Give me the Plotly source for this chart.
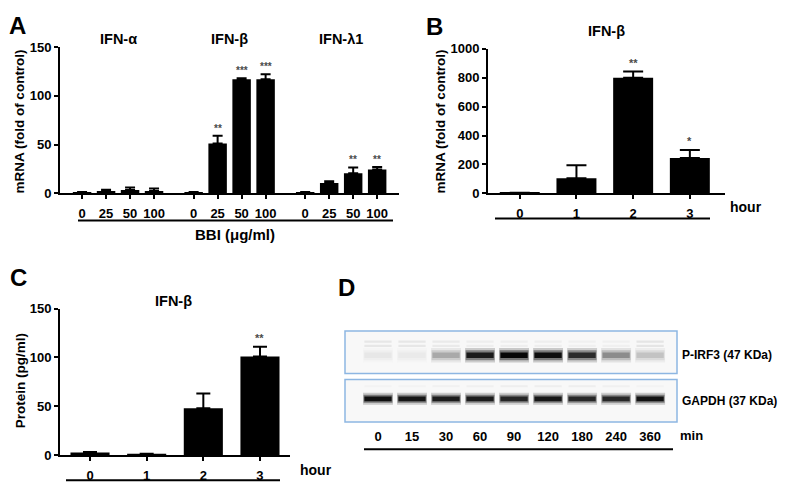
import plotly.graph_objects as go

# ---------------- data ----------------
a_genes = ["IFN-α", "IFN-β", "IFN-λ1"]
a_doses = ["0", "25", "50", "100"]
a_alpha_mean = [1.0, 2.5, 3.5, 2.5]
a_alpha_err = [0.3, 1.2, 2.5, 2.5]
a_alpha_sig = ["", "", "", ""]
a_beta_mean = [1.0, 51, 117, 117]
a_beta_err = [0.3, 8, 1, 5]
a_beta_sig = ["", "**", "***", "***"]
a_lambda_mean = [1.0, 10.5, 20.5, 24.5]
a_lambda_err = [0.3, 1.8, 6, 2.5]
a_lambda_sig = ["", "", "**", "**"]

b_hours = ["0", "1", "2", "3"]
b_mean = [3, 105, 800, 244]
b_err = [1, 90, 43, 56]
b_sig = ["", "", "**", "*"]

c_hours = ["0", "1", "2", "3"]
c_mean = [2.5, 1.0, 48, 101]
c_err = [0.5, 0.3, 15, 10]
c_sig = ["", "", "", "**"]

d_minutes = ["0", "15", "30", "60", "90", "120", "180", "240", "360"]
d_pirf3 = [0.07, 0.06, 0.33, 0.92, 1.0, 0.97, 0.85, 0.45, 0.22]
d_pirf3_upper = [0.07, 0.07, 0.06, 0.04, 0.04, 0.04, 0.035, 0.035, 0.08]
d_gapdh = [0.96, 0.93, 0.91, 0.91, 0.87, 0.93, 0.86, 0.86, 0.95]
d_gapdh_upper = [0.02, 0.02, 0.03, 0.035, 0.04, 0.04, 0.04, 0.035, 0.02]

# ---------------- layout helpers ----------------
W, H = 787, 486
FONT = "Liberation Sans, Arial, sans-serif"


def fx(p):
    return p / W


def fy(p):
    return 1 - p / H


def bold(t):
    return "<b>%s</b>" % t


fig = go.Figure()

# ---------------- bar panels ----------------
stride = 4.65
a_means = [a_alpha_mean, a_beta_mean, a_lambda_mean]
a_errs = [a_alpha_err, a_beta_err, a_lambda_err]
a_sigs = [a_alpha_sig, a_beta_sig, a_lambda_sig]
a_x, a_y, a_e, a_s, a_lab = [], [], [], [], []
for g, gene in enumerate(a_genes):
    for i, d in enumerate(a_doses):
        a_x.append(g * stride + i)
        a_y.append(a_means[g][i])
        a_e.append(a_errs[g][i])
        a_s.append(a_sigs[g][i])
        a_lab.append(d)

err_style = dict(type="data", symmetric=False, color="black", thickness=2)

fig.add_trace(go.Bar(
    x=a_x, y=a_y, width=0.77, marker=dict(color="black", line=dict(width=0)),
    error_y=dict(array=a_e, arrayminus=[0] * len(a_e), width=5, **err_style),
    xaxis="x", yaxis="y", showlegend=False))

fig.add_trace(go.Bar(
    x=list(range(len(b_hours))), y=b_mean, width=0.705,
    marker=dict(color="black", line=dict(width=0)),
    error_y=dict(array=b_err, arrayminus=[0] * len(b_err), width=10, **err_style),
    xaxis="x2", yaxis="y2", showlegend=False))

fig.add_trace(go.Bar(
    x=list(range(len(c_hours))), y=c_mean, width=0.69,
    marker=dict(color="black", line=dict(width=0)),
    error_y=dict(array=c_err, arrayminus=[0] * len(c_err), width=7, **err_style),
    xaxis="x3", yaxis="y3", showlegend=False))

# ---------------- panel D blots ----------------
band_cs = [[0, "#f8f8f8"], [0.5, "#808080"], [1, "#060606"]]
lanes = list(range(len(d_minutes)))


def band(vals, center, thick, xa, ya, width=0.82, fade=1.0):
    return go.Bar(
        x=lanes, y=[thick] * len(lanes), base=[center - thick / 2] * len(lanes),
        width=width,
        marker=dict(color=[v * fade for v in vals], colorscale=band_cs, cmin=0, cmax=1,
                    line=dict(width=0)),
        xaxis=xa, yaxis=ya, showlegend=False, hoverinfo="skip")


fig.add_trace(band(d_pirf3_upper, 0.75, 0.05, "x4", "y4", width=0.8))
fig.add_trace(band(d_pirf3_upper, 0.65, 0.05, "x4", "y4", width=0.8))
fig.add_trace(band(d_pirf3, 0.43, 0.34, "x4", "y4", width=0.88, fade=0.2))
fig.add_trace(band(d_pirf3, 0.43, 0.24, "x4", "y4", width=0.85, fade=0.55))
fig.add_trace(band(d_pirf3, 0.43, 0.13, "x4", "y4", width=0.8))
fig.add_trace(band(d_gapdh_upper, 0.84, 0.05, "x5", "y5", width=0.8))
fig.add_trace(band(d_gapdh, 0.545, 0.28, "x5", "y5", width=0.88, fade=0.2))
fig.add_trace(band(d_gapdh, 0.545, 0.19, "x5", "y5", width=0.85, fade=0.55))
fig.add_trace(band(d_gapdh, 0.545, 0.11, "x5", "y5", width=0.8))

# ---------------- axes ----------------
tickfont = dict(family=FONT, size=13, color="black")
xbase = dict(showline=True, linecolor="black", linewidth=2, ticks="outside",
             ticklen=4, tickwidth=2, tickcolor="black", showgrid=False, zeroline=False,
             tickfont=tickfont, fixedrange=True, ticklabelstandoff=3)
ybase = dict(showline=True, linecolor="black", linewidth=2, ticks="outside",
             ticklen=4, tickwidth=2, tickcolor="black", showgrid=False, zeroline=False,
             tickfont=tickfont, fixedrange=True)

fig.update_layout(
    width=W, height=H, margin=dict(l=0, r=0, t=0, b=0),
    paper_bgcolor="white", plot_bgcolor="rgba(0,0,0,0)", barmode="overlay",
    font=dict(family=FONT, color="black"),
    xaxis=dict(xbase, domain=[fx(52), fx(391)], range=[-0.92, 13.21],
               tickvals=a_x, ticktext=[bold(t) for t in a_lab], anchor="y"),
    yaxis=dict(ybase, domain=[fy(184), fy(33)], range=[0, 150],
               tickvals=[0, 50, 100, 150], ticktext=[bold(v) for v in [0, 50, 100, 150]],
               anchor="x"),
    xaxis2=dict(xbase, domain=[fx(480), fx(717)], range=[-0.56, 3.62],
                tickvals=list(range(4)), ticktext=[bold(t) for t in b_hours], anchor="y2"),
    yaxis2=dict(ybase, domain=[fy(184), fy(35)], range=[0, 1000],
                tickvals=[0, 200, 400, 600, 800, 1000],
                ticktext=[bold(v) for v in [0, 200, 400, 600, 800, 1000]], anchor="x2"),
    xaxis3=dict(xbase, domain=[fx(52), fx(282)], range=[-0.53, 3.53],
                tickvals=list(range(4)), ticktext=[bold(t) for t in c_hours], anchor="y3"),
    yaxis3=dict(ybase, domain=[fy(454), fy(303)], range=[0, 150],
                tickvals=[0, 50, 100, 150], ticktext=[bold(v) for v in [0, 50, 100, 150]],
                anchor="x3"),
    xaxis4=dict(domain=[fx(337), fx(669)], range=[-0.97, 8.79], showline=False,
                showgrid=False, zeroline=False, showticklabels=False, anchor="y4",
                fixedrange=True),
    yaxis4=dict(domain=[fy(370), fy(326)], range=[0, 1], showline=False, showgrid=False,
                zeroline=False, showticklabels=False, anchor="x4", fixedrange=True),
    xaxis5=dict(domain=[fx(337), fx(669)], range=[-0.97, 8.79], showline=False,
                showgrid=False, zeroline=False, ticks="", anchor="y5",
                tickvals=lanes, ticktext=[bold(t) for t in d_minutes], tickfont=tickfont,
                ticklabelstandoff=5, fixedrange=True),
    yaxis5=dict(domain=[fy(420), fy(376)], range=[0, 1], showline=False, showgrid=False,
                zeroline=False, showticklabels=False, anchor="x5", fixedrange=True),
)

# ---------------- shapes ----------------
shapes = []
for ax in ["4", "5"]:
    shapes.append(dict(type="rect", xref="x%s domain" % ax, yref="y%s domain" % ax,
                       x0=0, x1=1, y0=0, y1=1, fillcolor="#f8f8f8",
                       line=dict(color="#8db6e2", width=1.5), layer="below"))
for (x0, x1, y) in [(70, 385, 212), (487, 702, 210), (58, 272, 480), (356, 665, 448)]:
    shapes.append(dict(type="line", xref="paper", yref="paper", x0=fx(x0), x1=fx(x1),
                       y0=fy(y), y1=fy(y), line=dict(color="black", width=2)))
fig.update_layout(shapes=shapes)

# ---------------- annotations ----------------
ann = []


def text(x, y, t, size=12, xanchor="center", angle=0, color="black", xref="paper", yref="paper",
         yanchor="middle", yshift=0):
    ann.append(dict(x=x, y=y, xref=xref, yref=yref, text=t, showarrow=False,
                    xanchor=xanchor, yanchor=yanchor, textangle=angle, yshift=yshift,
                    borderpad=0, font=dict(family=FONT, size=size, color=color)))


# panel letters
text(fx(9), fy(11), bold("A"), size=24)
text(fx(426), fy(12), bold("B"), size=24)
text(fx(10), fy(271), bold("C"), size=24)
text(fx(338), fy(281), bold("D"), size=24)

# panel A titles
for g, gene in enumerate(a_genes):
    text(g * stride + 1.5, fy(25), bold(gene), size=14.5, xref="x", yref="paper")
text(fx(227), fy(227), bold("BBI (μg/ml)"), size=15)
text(fx(12), fy(110), bold("mRNA (fold of control)"), size=13.5, angle=-90)

# panel B
text(fx(598), fy(17), bold("IFN-β"), size=14.5)
text(fx(433), fy(110), bold("mRNA (fold of control)"), size=13.5, angle=-90)
text(fx(721), fy(198), bold("hour"), size=14, xanchor="left")

# panel C
text(fx(165), fy(295), bold("IFN-β"), size=14.5)
text(fx(12), fy(378), bold("Protein (pg/ml)"), size=13.5, angle=-90)
text(fx(291), fy(469), bold("hour"), size=14, xanchor="left")

# panel D
text(fx(673), fy(351), bold("P-IRF3 (47 KDa)"), size=12, xanchor="left")
text(fx(673), fy(398), bold("GAPDH (37 KDa)"), size=12, xanchor="left")
text(fx(671), fy(434), bold("min"), size=13, xanchor="left")

# significance stars
STAR = "#4a4a4a"
for x, y, e, s in zip(a_x, a_y, a_e, a_s):
    if s:
        text(x, y + e, bold(s), size=10, color=STAR, xref="x", yref="y", yanchor="bottom", yshift=1)
for i, (y, e, s) in enumerate(zip(b_mean, b_err, b_sig)):
    if s:
        text(i, y + e, bold(s), size=11, color=STAR, xref="x2", yref="y2", yanchor="bottom", yshift=2)
for i, (y, e, s) in enumerate(zip(c_mean, c_err, c_sig)):
    if s:
        text(i, y + e, bold(s), size=11, color=STAR, xref="x3", yref="y3", yanchor="bottom", yshift=2)

fig.update_layout(annotations=ann)

fig.write_html("out.html")
